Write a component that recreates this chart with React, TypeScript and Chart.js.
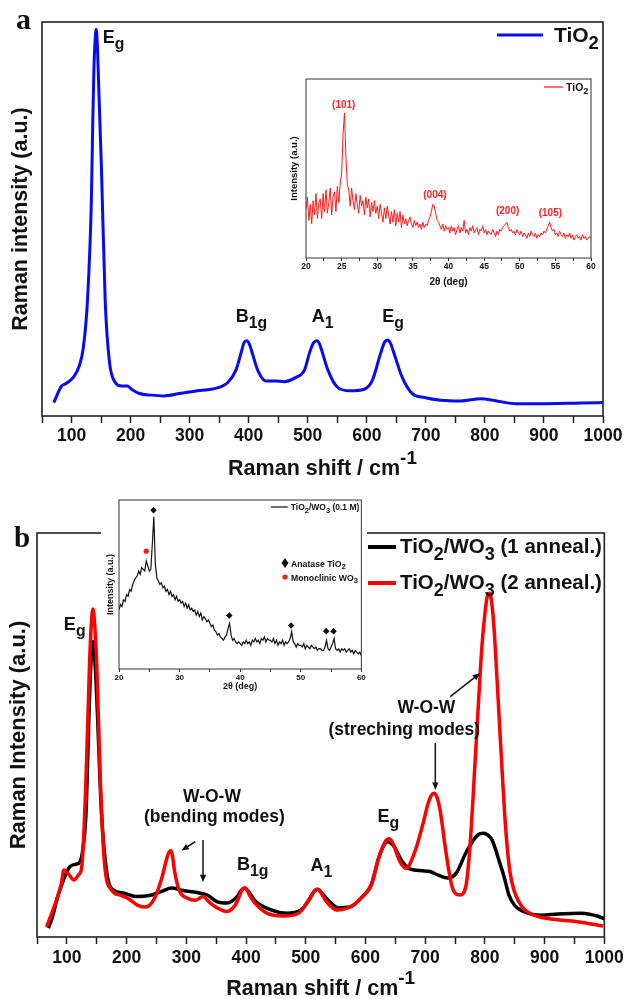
import React, { useEffect, useRef } from 'react';
import { Chart, registerables } from 'chart.js';

Chart.register(...registerables);

const SANS = '"Liberation Sans", Arial, Helvetica, sans-serif';
const SERIF = '"Liberation Serif", "Times New Roman", serif';
Chart.defaults.font.family = SANS;

// ---------------- (a) Raman spectrum of TiO2 ----------------
const shiftTiO2 = [
  70, 83, 89, 103, 113, 120, 127, 133.6, 136, 138,
  140, 141.7, 143.3, 145, 147.5, 150.6, 157, 164, 174, 184.5,
  194.7, 201.5, 215, 235.5, 256, 283, 317, 344, 364.6, 378,
  388, 392, 396.5, 401, 405, 415.6, 429, 446, 460, 480,
  494, 504, 510, 515.5, 520, 524, 534.5, 551, 572, 595.6,
  609, 623, 630, 635, 640, 646.6, 660, 677, 697.6, 724.7,
  758.7, 792.7, 820, 854, 894.6, 962.6, 1000,
];
const intensityTiO2 = [
  3.4, 7.6, 8.1, 9.8, 12.7, 17.4, 29.3, 54.7, 75, 88.6,
  95.5, 98.1, 95.5, 88.6, 77, 63.2, 29.3, 14, 8.5, 7.6,
  7.6, 6.8, 5.7, 5.3, 5.1, 5.7, 6.5, 7.0, 8.5, 11.5,
  16.5, 18.6, 19.1, 18.3, 16.5, 11.5, 8.9, 8.9, 8.7, 9.8,
  11.5, 16.5, 18.6, 19.1, 18.3, 16.5, 11.5, 7.2, 6.4, 6.8,
  8.9, 15.7, 18.7, 19.3, 18.5, 15.7, 9.8, 5.7, 4.7, 4.0,
  3.8, 4.4, 3.8, 3.1, 3.1, 3.3, 3.4,
];

// Mode labels of panel (a): [main, subscript], anchored at (cm-1, intensity)
const modeTextA = [['E', 'g'], ['B', '1g'], ['A', '1'], ['E', 'g']];
const modeShiftA = [153, 378, 507, 626];
const modeLevelA = [94.7, 23.8, 23.8, 23.8];

// XRD of TiO2 (inset a), 2θ from 20° in 0.2° steps
const xrdTiO2Start = 20;
const xrdTiO2Step = 0.2;
const xrdTiO2 = [
  27, 34, 21, 30, 19, 32, 24, 36, 22, 31,
  33, 22, 36, 26, 38, 25, 31, 39, 24, 34,
  37, 26, 40, 31, 42, 47, 69, 81, 57, 41,
  38, 29, 39, 32, 27, 36, 30, 25, 35, 29,
  32, 24, 34, 28, 33, 23, 31, 26, 32, 25,
  29, 22, 30, 25, 20, 28, 22, 29, 24, 19,
  26, 20, 27, 18, 25, 20, 26, 17, 24, 19,
  22, 18, 21, 23, 19, 17, 21, 18, 20, 17,
  19, 16, 20, 17, 19, 18, 21, 23, 26, 30,
  29, 25, 21, 20, 18, 16, 19, 15, 18, 16,
  17, 14, 18, 15, 17, 13, 16, 18, 14, 17,
  15, 21, 14, 16, 13, 17, 15, 18, 14, 16,
  17, 13, 16, 15, 18, 14, 16, 13, 15, 14,
  13, 16, 14, 12, 15, 13, 16, 15, 17, 18,
  19, 20, 17, 15, 16, 14, 15, 13, 16, 14,
  13, 15, 12, 14, 13, 11, 14, 12, 15, 13,
  12, 14, 11, 13, 12, 14, 13, 15, 14, 16,
  18, 20, 17, 15, 16, 13, 14, 12, 15, 13,
  12, 14, 11, 13, 12, 14, 11, 13, 10, 12,
  13, 11, 12, 10, 13, 11, 12, 10, 11, 12,
  11,
];
const xrdTiO2Planes = ['(101)', '(004)', '(200)', '(105)'];
const xrdTiO2PlaneAngles = [25.3, 38.1, 48.3, 54.3];
const xrdTiO2PlaneLevels = [85.9, 35.8, 26.8, 25.9];

// ---------------- (b) Raman spectra of TiO2/WO3 ----------------
const shiftOneAnneal = [
  69, 76, 83, 93, 105, 115, 122, 127, 132, 138,
  141, 143.7, 146.5, 150, 158, 167, 178, 195, 215, 242,
  262, 275, 295, 318, 335, 352, 368, 385, 392, 398,
  404, 415, 442, 468, 492, 505, 514, 520, 526, 540,
  555, 575, 595, 610, 622, 633, 638, 643, 648, 662,
  675, 695, 708, 722, 738, 752, 768, 785, 792, 798,
  805, 812, 825, 832, 840, 850, 865, 880, 895, 922,
  962, 988, 1000,
];
const intensityOneAnneal = [
  2.2, 5, 9.1, 13.6, 17.4, 18, 18.6, 22, 30.6, 59.5,
  69.5, 73.1, 69.5, 59.5, 30.6, 15.8, 11.6, 10.9, 10, 10.4,
  11.5, 12.1, 11.5, 11, 10.4, 8.7, 8.4, 10, 11.5, 12.1,
  11.3, 9, 6.7, 5.9, 6.7, 9.1, 11.3, 11.8, 11, 8.7,
  7.2, 7.5, 10, 13, 19.5, 23.2, 23.6, 23.2, 22.4, 18.6,
  16.8, 16.4, 16.2, 15.3, 14.6, 15.8, 20.8, 24.8, 25.6, 25.7,
  25.2, 24, 18.3, 15, 10.5, 7.8, 6.3, 5.6, 5.4, 5.7,
  5.9, 5.2, 4.5,
];
const shiftTwoAnneal = [
  66, 80, 91, 95, 103, 112, 120, 125, 132, 138,
  141, 143.7, 146.5, 150, 156, 163, 175, 188, 202, 218,
  232, 245, 258, 268, 271, 274, 277, 280, 288, 302,
  315, 328, 338, 352, 368, 382, 390, 394, 398, 402,
  406, 415, 435, 462, 488, 505, 512, 516, 520, 524,
  528, 535, 552, 575, 595, 610, 622, 632, 636, 640,
  644, 648, 658, 668, 682, 695, 705, 710, 715, 720,
  725, 735, 745, 758, 768, 775, 785, 795, 800, 804,
  808, 812, 816, 825, 835, 842, 850, 862, 880, 908,
  955, 998,
];
const intensityTwoAnneal = [
  2.5, 8, 13.4, 16.6, 15.5, 14.1, 15.5, 17.4, 38.9, 67.8,
  77.5, 81.2, 77.5, 67.8, 38.9, 18.3, 11.6, 10.4, 9.6, 7.9,
  7.4, 9.1, 14.1, 19.8, 21, 21.4, 20, 16.6, 11.6, 9.6,
  9.1, 10, 8.7, 7.2, 6.3, 7.9, 10.5, 11.8, 12.1, 11.5,
  10.3, 8.4, 5.9, 5.2, 5.9, 9.1, 10.8, 11.6, 11.8, 11.4,
  10.3, 8.7, 6.7, 7.5, 10, 13, 19.5, 23.3, 24.1, 24.3,
  23.7, 22.4, 18.6, 17, 20.8, 27.3, 33.1, 35, 35.6, 34.5,
  31.4, 20.8, 12.5, 10.4, 12.5, 22.4, 47, 71.9, 80, 84.3,
  85.1, 82, 75, 51.2, 26.5, 16, 11, 7.5, 5.5, 4.5,
  3.8, 2.7,
];

// Mode labels of panel (b)
const modeTextB = [['E', 'g'], ['B', '1g'], ['A', '1'], ['E', 'g']];
const modeShiftB = [95, 385, 508, 620];
const modeLevelB = [76, 16.6, 16.3, 28.5];

// W-O-W notes: text lines centred at (cm-1, intensity)
const noteLines = ['W-O-W', '(bending modes)', 'W-O-W', '(streching modes)'];
const noteShift = [343, 347, 702, 665];
const noteLevel = [33.4, 28.5, 55.4, 50];

// Arrows: from (x1, y1) to the head at (x2, y2), in cm-1 / intensity
const arrowFromShift = [328, 315, 717, 742];
const arrowFromLevel = [24, 23.6, 48, 59.5];
const arrowToShift = [328, 292, 717, 792];
const arrowToLevel = [13.6, 21.4, 36.4, 65.3];

// XRD of TiO2/WO3 (0.1 M) (inset b), 2θ from 20° in 0.25° steps
const xrdMixStart = 20;
const xrdMixStep = 0.25;
const xrdMix = [
  35, 38, 37, 41, 40, 44, 43, 47, 46, 50,
  52, 54, 55, 58, 56, 60, 59, 58, 64, 61,
  58, 59, 74, 90, 62, 54, 52, 50, 51, 48,
  49, 46, 47, 44, 46, 43, 44, 41, 43, 40,
  41, 39, 40, 37, 39, 36, 38, 35, 36, 34,
  35, 32, 34, 31, 33, 29, 31, 30, 28, 29,
  27, 25, 26, 23, 22, 20, 21, 19, 18, 17,
  19, 20, 24, 27, 20, 17, 18, 16, 15, 16,
  15, 14, 16, 15, 17, 15, 16, 14, 17, 16,
  18, 16, 17, 15, 18, 17, 19, 16, 18, 17,
  17, 16, 18, 15, 17, 14, 16, 15, 17, 14,
  16, 15, 16, 18, 22, 16, 15, 13, 15, 14,
  14, 13, 15, 12, 14, 13, 12, 14, 13, 12,
  13, 11, 12, 12, 11, 11, 13, 17, 12, 11,
  13, 15, 18, 12, 11, 12, 10, 12, 11, 12,
  10, 11, 12, 10, 11, 9, 11, 10, 9, 10,
  8,
];
const anataseAngles = [25.7, 38.2, 48.4, 54.2, 55.4];
const anataseMarks = [94, 31.7, 25.7, 22.4, 22.4];
const monoclinicAngles = [24.5];
const monoclinicMarks = [69.7];

// ---------------- drawing helpers ----------------
type Part = { t: string; s?: 'sub' | 'sup' };
const sub = (t: string): Part => ({ t, s: 'sub' });
const sup = (t: string): Part => ({ t, s: 'sup' });

function rich(
  ctx: CanvasRenderingContext2D,
  parts: Part[],
  x: number,
  y: number,
  size: number,
  opts: { align?: 'left' | 'center' | 'right'; color?: string; family?: string; weight?: string } = {}
) {
  const family = opts.family || SANS;
  const weight = opts.weight || 'bold';
  const fontOf = (p: Part) => `${weight} ${p.s ? size * 0.88 : size}px ${family}`;
  let w = 0;
  for (const p of parts) {
    ctx.font = fontOf(p);
    w += ctx.measureText(p.t).width;
  }
  let cx = opts.align === 'center' ? x - w / 2 : opts.align === 'right' ? x - w : x;
  ctx.fillStyle = opts.color || '#111';
  ctx.textAlign = 'left';
  ctx.textBaseline = 'alphabetic';
  for (const p of parts) {
    ctx.font = fontOf(p);
    const dy = p.s === 'sub' ? size * 0.32 : p.s === 'sup' ? -size * 0.5 : 0;
    ctx.fillText(p.t, cx, y + dy);
    cx += ctx.measureText(p.t).width;
  }
  return w;
}

function arrow(ctx: CanvasRenderingContext2D, x1: number, y1: number, x2: number, y2: number) {
  const ang = Math.atan2(y2 - y1, x2 - x1);
  const head = 8;
  ctx.strokeStyle = '#111';
  ctx.fillStyle = '#111';
  ctx.lineWidth = 1.5;
  ctx.beginPath();
  ctx.moveTo(x1, y1);
  ctx.lineTo(x2 - Math.cos(ang) * head * 0.7, y2 - Math.sin(ang) * head * 0.7);
  ctx.stroke();
  ctx.beginPath();
  ctx.moveTo(x2, y2);
  ctx.lineTo(x2 - head * Math.cos(ang - 0.4), y2 - head * Math.sin(ang - 0.4));
  ctx.lineTo(x2 - head * Math.cos(ang + 0.4), y2 - head * Math.sin(ang + 0.4));
  ctx.closePath();
  ctx.fill();
}

function frame(chart: any, lw: number, color: string) {
  const { left, top, right, bottom } = chart.chartArea;
  const ctx = chart.ctx as CanvasRenderingContext2D;
  ctx.strokeStyle = color;
  ctx.lineWidth = lw;
  ctx.strokeRect(left, top, right - left, bottom - top);
}

function overlay(id: string, draw: (chart: any, ctx: CanvasRenderingContext2D) => void, whiteBack = false) {
  return {
    id,
    beforeDraw(chart: any) {
      if (!whiteBack) return;
      const ctx = chart.ctx;
      ctx.save();
      ctx.fillStyle = '#fff';
      ctx.fillRect(0, 0, chart.width, chart.height);
      ctx.restore();
    },
    afterDraw(chart: any) {
      const ctx = chart.ctx as CanvasRenderingContext2D;
      ctx.save();
      draw(chart, ctx);
      ctx.restore();
    },
  };
}

const pts = (xs: number[], ys: number[]) => xs.map((x, i) => ({ x, y: ys[i] }));
const gridPts = (start: number, step: number, ys: number[]) => ys.map((y, i) => ({ x: start + i * step, y }));

function ramanX(tickSize: number, pad: number, height: number) {
  return {
    type: 'linear',
    min: 50,
    max: 1000,
    afterFit: (s: any) => {
      s.height = height;
    },
    ticks: {
      stepSize: 50,
      autoSkip: false,
      maxRotation: 0,
      minRotation: 0,
      padding: pad,
      color: '#111',
      font: { family: SANS, size: tickSize, weight: 'bold' },
      callback: (v: number) => (v % 100 === 0 ? String(v) : ''),
    },
    grid: { display: true, drawOnChartArea: false, drawTicks: true, tickLength: 7, tickWidth: 1.5, tickColor: '#222' },
    border: { display: false },
  };
}

function xrdX(step: number, labelEvery: number, tickSize: number, pad: number, height: number, titleSize: number, titlePad: number) {
  return {
    type: 'linear',
    min: 20,
    max: 60,
    afterFit: (s: any) => {
      s.height = height;
    },
    ticks: {
      stepSize: step,
      autoSkip: false,
      maxRotation: 0,
      minRotation: 0,
      padding: pad,
      color: '#111',
      font: { family: SANS, size: tickSize, weight: 'bold' },
      callback: (v: number) => (Math.abs(v % labelEvery) < 1e-6 ? String(v) : ''),
    },
    grid: { display: true, drawOnChartArea: false, drawTicks: true, tickLength: 3, tickWidth: 1, tickColor: '#333' },
    border: { display: false },
    title: {
      display: true,
      text: '2θ (deg)',
      color: '#111',
      font: { family: SANS, size: titleSize, weight: 'bold' },
      padding: { top: 0, bottom: titlePad },
    },
  };
}

function hiddenY(width: number, title: string, size: number, pad: number) {
  return {
    min: 0,
    max: 100,
    afterFit: (s: any) => {
      s.width = width;
    },
    ticks: { display: false },
    grid: { display: false },
    border: { display: false },
    title: {
      display: true,
      text: title,
      color: '#111',
      font: { family: SANS, size, weight: 'bold' },
      padding: { top: pad, bottom: 0 },
    },
  };
}

const baseOptions = {
  animation: false,
  responsive: false,
  events: [],
  plugins: { legend: { display: false }, tooltip: { enabled: false } },
};

// ---------------- chart builders ----------------
function buildRamanA() {
  return {
    type: 'line',
    data: {
      datasets: [
        {
          data: pts(shiftTiO2, intensityTiO2),
          borderColor: '#0a0af2',
          borderWidth: 3,
          pointRadius: 0,
          cubicInterpolationMode: 'monotone',
          fill: false,
        },
      ],
    },
    options: {
      ...baseOptions,
      layout: { padding: { left: 0, top: 22, right: 24, bottom: 0 } },
      scales: {
        x: ramanX(17.5, 3, 74),
        y: hiddenY(42, 'Raman intensity (a.u.)', 21.5, 8),
      },
    },
    plugins: [
      overlay('panelA', (chart, ctx) => {
        frame(chart, 1.6, '#222');
        const xs = chart.scales.x;
        const ys = chart.scales.y;
        modeTextA.forEach(([m, s], i) =>
          rich(ctx, [{ t: m }, sub(s)], xs.getPixelForValue(modeShiftA[i]), ys.getPixelForValue(modeLevelA[i]), 18)
        );
        // legend
        ctx.strokeStyle = '#0a0af2';
        ctx.lineWidth = 3;
        ctx.beginPath();
        ctx.moveTo(497, 35);
        ctx.lineTo(543, 35);
        ctx.stroke();
        rich(ctx, [{ t: 'TiO' }, sub('2')], 554, 42, 21);
        // axis title
        const cx = (chart.chartArea.left + chart.chartArea.right) / 2;
        rich(ctx, [{ t: 'Raman shift / cm' }, sup('-1')], cx, 475, 21.5, { align: 'center' });
        // panel letter
        rich(ctx, [{ t: 'a' }], 16, 29, 30, { family: SERIF });
      }),
    ],
  };
}

function buildXrdA() {
  return {
    type: 'line',
    data: {
      datasets: [
        {
          data: gridPts(xrdTiO2Start, xrdTiO2Step, xrdTiO2),
          borderColor: '#ff1a1a',
          borderWidth: 1,
          pointRadius: 0,
          tension: 0,
          fill: false,
        },
      ],
    },
    options: {
      ...baseOptions,
      layout: { padding: { left: 0, top: 4, right: 6, bottom: 0 } },
      scales: {
        x: xrdX(2.5, 5, 8.5, 0.6, 34, 10, 4),
        y: hiddenY(22, 'Intensity (a.u.)', 9.5, 4.3),
      },
    },
    plugins: [
      overlay('insetA', (chart, ctx) => {
        frame(chart, 1, '#333');
        const xs = chart.scales.x;
        const ys = chart.scales.y;
        xrdTiO2Planes.forEach((p, i) =>
          rich(ctx, [{ t: p }], xs.getPixelForValue(xrdTiO2PlaneAngles[i]), ys.getPixelForValue(xrdTiO2PlaneLevels[i]) + 4, 10, {
            align: 'center',
            color: '#ff2020',
          })
        );
        ctx.strokeStyle = '#ff1a1a';
        ctx.lineWidth = 1.2;
        ctx.beginPath();
        ctx.moveTo(260, 12);
        ctx.lineTo(279, 12);
        ctx.stroke();
        rich(ctx, [{ t: 'TiO' }, sub('2')], 282, 15.5, 10.5);
      }),
    ],
  };
}

function buildRamanB() {
  return {
    type: 'line',
    data: {
      datasets: [
        {
          label: 'TiO2/WO3 (2 anneal.)',
          data: pts(shiftTwoAnneal, intensityTwoAnneal),
          borderColor: '#ff0000',
          borderWidth: 3.5,
          pointRadius: 0,
          cubicInterpolationMode: 'monotone',
          fill: false,
          order: 0,
        },
        {
          label: 'TiO2/WO3 (1 anneal.)',
          data: pts(shiftOneAnneal, intensityOneAnneal),
          borderColor: '#000000',
          borderWidth: 3.5,
          pointRadius: 0,
          cubicInterpolationMode: 'monotone',
          fill: false,
          order: 1,
        },
      ],
    },
    options: {
      ...baseOptions,
      layout: { padding: { left: 0, top: 38, right: 20, bottom: 0 } },
      scales: {
        x: ramanX(17.5, 3.2, 62),
        y: hiddenY(37, 'Raman Intensity (a.u.)', 22, 6),
      },
    },
    plugins: [
      overlay('panelB', (chart, ctx) => {
        frame(chart, 1.6, '#222');
        const xs = chart.scales.x;
        const ys = chart.scales.y;
        const X = (v: number) => xs.getPixelForValue(v);
        const Y = (v: number) => ys.getPixelForValue(v);
        modeTextB.forEach(([m, s], i) => rich(ctx, [{ t: m }, sub(s)], X(modeShiftB[i]), Y(modeLevelB[i]), 18));
        noteLines.forEach((t, i) => rich(ctx, [{ t }], X(noteShift[i]), Y(noteLevel[i]), 17.5, { align: 'center' }));
        arrowFromShift.forEach((v, i) => arrow(ctx, X(v), Y(arrowFromLevel[i]), X(arrowToShift[i]), Y(arrowToLevel[i])));
        // legend
        const rows: [string, string, number][] = [
          ['#000000', '1', 52],
          ['#ff0000', '2', 88],
        ];
        rows.forEach(([color, n, y]) => {
          ctx.strokeStyle = color;
          ctx.lineWidth = 4;
          ctx.beginPath();
          ctx.moveTo(368, y);
          ctx.lineTo(396, y);
          ctx.stroke();
          rich(ctx, [{ t: 'TiO' }, sub('2'), { t: '/WO' }, sub('3'), { t: ` (${n} anneal.)` }], 400, y + 6, 20.5);
        });
        const cx = (chart.chartArea.left + chart.chartArea.right) / 2;
        rich(ctx, [{ t: 'Raman shift / cm' }, sup('-1')], cx, 500, 21.5, { align: 'center' });
        rich(ctx, [{ t: 'b' }], 14, 52, 29, { family: SERIF });
      }),
    ],
  };
}

function buildXrdB() {
  return {
    type: 'line',
    data: {
      datasets: [
        {
          data: gridPts(xrdMixStart, xrdMixStep, xrdMix),
          borderColor: '#111',
          borderWidth: 1.2,
          pointRadius: 0,
          tension: 0,
          fill: false,
          order: 2,
        },
        {
          type: 'scatter',
          data: pts(anataseAngles, anataseMarks),
          pointStyle: 'rectRot',
          pointRadius: 3.3,
          backgroundColor: '#111',
          borderWidth: 0,
          showLine: false,
          order: 0,
        },
        {
          type: 'scatter',
          data: pts(monoclinicAngles, monoclinicMarks),
          pointStyle: 'circle',
          pointRadius: 2.6,
          backgroundColor: '#ff1a1a',
          borderWidth: 0,
          showLine: false,
          order: 1,
        },
      ],
    },
    options: {
      ...baseOptions,
      layout: { padding: { left: 0, top: 8, right: 5, bottom: 0 } },
      scales: {
        x: xrdX(5, 10, 8, 1.2, 25, 9, 1.6),
        y: hiddenY(18, 'Intensity (a.u.)', 9, 4.6),
      },
    },
    plugins: [
      overlay(
        'insetB',
        (chart, ctx) => {
          frame(chart, 1, '#333');
          // legend: line sample
          const w = rich(ctx, [{ t: 'TiO' }, sub('2'), { t: '/WO' }, sub('3'), { t: ' (0.1 M)' }], chart.chartArea.right - 2, 18, 8.5, {
            align: 'right',
          });
          const start = chart.chartArea.right - 2 - w;
          ctx.strokeStyle = '#111';
          ctx.lineWidth = 1.2;
          ctx.beginPath();
          ctx.moveTo(start - 20, 15);
          ctx.lineTo(start - 3, 15);
          ctx.stroke();
          // legend: phase markers
          ctx.fillStyle = '#111';
          ctx.beginPath();
          ctx.moveTo(184, 66);
          ctx.lineTo(187.5, 71);
          ctx.lineTo(184, 76);
          ctx.lineTo(180.5, 71);
          ctx.closePath();
          ctx.fill();
          rich(ctx, [{ t: 'Anatase TiO' }, sub('2')], 190, 74.5, 8.7);
          ctx.fillStyle = '#ff1a1a';
          ctx.beginPath();
          ctx.arc(184, 85, 2.6, 0, Math.PI * 2);
          ctx.fill();
          rich(ctx, [{ t: 'Monoclinic WO' }, sub('3')], 190, 88.5, 8.7);
        },
        true
      ),
    ],
  };
}

// ---------------- components ----------------
function ChartCanvas({ left, top, width, height, build }: { left: number; top: number; width: number; height: number; build: () => any }) {
  const ref = useRef<HTMLCanvasElement>(null);
  useEffect(() => {
    const chart = new Chart(ref.current as HTMLCanvasElement, build());
    return () => chart.destroy();
  }, [build]);
  return (
    <canvas
      ref={ref}
      width={width}
      height={height}
      style={{ position: 'absolute', left, top, width, height, display: 'block' }}
    />
  );
}

export default function App() {
  useEffect(() => {
    document.body.style.margin = '0';
  }, []);
  return (
    <div style={{ position: 'absolute', left: 0, top: 0, width: 627, height: 999, background: '#fff', overflow: 'hidden' }}>
      <ChartCanvas left={0} top={0} width={627} height={490} build={buildRamanA} />
      <ChartCanvas left={284} top={75} width={313} height={217} build={buildXrdA} />
      <ChartCanvas left={0} top={495} width={627} height={504} build={buildRamanB} />
      <ChartCanvas left={101} top={492} width={266} height={202} build={buildXrdB} />
    </div>
  );
}
